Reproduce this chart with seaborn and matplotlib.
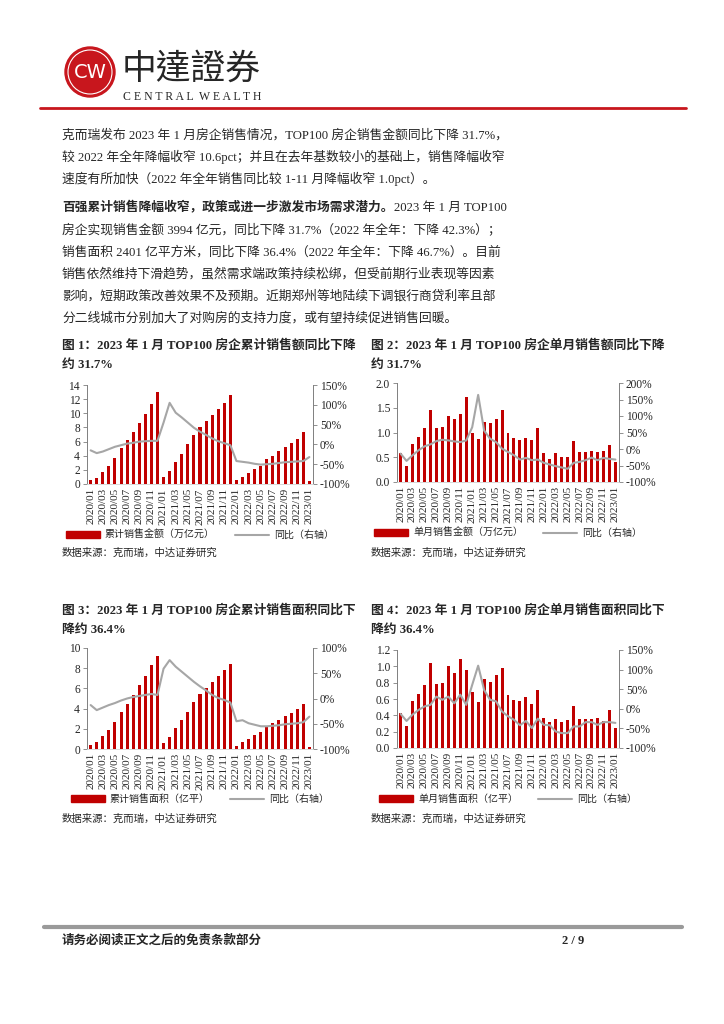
import numpy as np
import pandas as pd
import matplotlib
matplotlib.use('Agg')
import matplotlib.pyplot as plt
import seaborn as sns
from matplotlib.patches import Circle, Patch
from matplotlib.lines import Line2D

# ---- data ----
months = ['2020/01', '2020/02', '2020/03', '2020/04', '2020/05', '2020/06',
          '2020/07', '2020/08', '2020/09', '2020/10', '2020/11', '2020/12',
          '2021/01', '2021/02', '2021/03', '2021/04', '2021/05', '2021/06',
          '2021/07', '2021/08', '2021/09', '2021/10', '2021/11', '2021/12',
          '2022/01', '2022/02', '2022/03', '2022/04', '2022/05', '2022/06',
          '2022/07', '2022/08', '2022/09', '2022/10', '2022/11', '2022/12',
          '2023/01']

cum_amount = [0.6, 0.9, 1.7, 2.6, 3.7, 5.1, 6.2, 7.3, 8.6, 9.9, 11.3, 13.0,
              1.0, 1.9, 3.1, 4.3, 5.6, 7.0, 8.1, 8.9, 9.7, 10.6, 11.5, 12.6,
              0.6, 1.0, 1.6, 2.1, 2.6, 3.5, 4.0, 4.6, 5.2, 5.8, 6.4, 7.3,
              0.4]
cum_amount_yoy = [-15, -22, -18, -12, -6, -2, 2, 4, 7, 8, 9, 9,
                  55, 105, 80, 68, 55, 42, 32, 24, 15, 8, 3, -2,
                  -42, -44, -46, -49, -51, -50, -49, -47, -45, -44, -43, -42,
                  -32]

mon_amount = [0.58, 0.32, 0.76, 0.90, 1.09, 1.45, 1.09, 1.12, 1.33, 1.28, 1.38, 1.72,
              0.99, 0.86, 1.22, 1.20, 1.28, 1.45, 1.00, 0.89, 0.85, 0.88, 0.84, 1.09,
              0.59, 0.46, 0.58, 0.50, 0.51, 0.82, 0.60, 0.60, 0.62, 0.61, 0.62, 0.75,
              0.40]
mon_amount_yoy = [-14, -36, -19, -4, 8, 14, 24, 28, 26, 23, 21, 26,
                  66, 164, 56, 31, 21, 1, -9, -19, -32, -27, -34, -32,
                  -42, -47, -52, -56, -60, -42, -39, -34, -26, -34, -27, -30,
                  -32]

cum_area = [0.4, 0.7, 1.3, 1.9, 2.7, 3.7, 4.5, 5.3, 6.3, 7.2, 8.3, 9.2,
            0.6, 1.2, 2.1, 2.9, 3.7, 4.7, 5.4, 6.0, 6.6, 7.2, 7.8, 8.4,
            0.3, 0.7, 1.0, 1.4, 1.7, 2.3, 2.6, 2.9, 3.3, 3.6, 4.0, 4.5,
            0.2]
cum_area_yoy = [-13, -23, -18, -13, -9, -4, 0, 3, 5, 7, 9, 7,
                59, 76, 63, 53, 43, 33, 24, 16, 7, 1, -3, -8,
                -45, -43, -49, -52, -55, -55, -54, -53, -51, -50, -49, -47,
                -36]

mon_area = [0.43, 0.27, 0.58, 0.66, 0.77, 1.04, 0.78, 0.79, 1.00, 0.92, 1.09, 0.96,
            0.68, 0.56, 0.85, 0.81, 0.89, 0.98, 0.65, 0.59, 0.57, 0.63, 0.54, 0.71,
            0.37, 0.32, 0.36, 0.32, 0.34, 0.52, 0.35, 0.36, 0.36, 0.37, 0.33, 0.46,
            0.24]
mon_area_yoy = [-13, -31, -15, -3, 6, 10, 31, 23, 31, 14, 36, 10,
                61, 110, 48, 23, 19, -7, -19, -28, -42, -31, -49, -25,
                -41, -42, -58, -62, -62, -45, -45, -34, -34, -41, -34, -34,
                -36]

RED = '#C00000'
GRAY = '#A6A6A6'

sns.set_style('white')
plt.rcParams['font.family'] = ['Liberation Serif', 'Noto Sans CJK SC', 'DejaVu Sans']
plt.rcParams['axes.unicode_minus'] = False

W, H = 724, 1024
fig = plt.figure(figsize=(W / 100, H / 100), dpi=100)

# page layer in pixel coordinates
page = fig.add_axes([0, 0, 1, 1])
page.set_xlim(0, W)
page.set_ylim(H, 0)
page.axis('off')

# header
page.add_patch(Circle((90, 72), 25, color='#C8161D'))
page.add_patch(Circle((90, 72), 22, fill=False, ec='white', lw=0.8))
page.text(90, 73, 'CW', color='white', fontsize=14, ha='center', va='center',
          family='DejaVu Sans')
page.text(122, 69, '中達證券', fontsize=25, va='center', ha='left',
          family=['Noto Sans CJK TC'])
page.text(123, 97, 'C E N T R A L  W E A L T H', fontsize=8.5,
          va='center', ha='left', family='Liberation Serif')
page.plot([40, 686], [108, 108], color='#C8161D', lw=2)

# body text
body = 9.2
x0 = 62
p1 = ['克而瑞发布 2023 年 1 月房企销售情况，TOP100 房企销售金额同比下降 31.7%，',
      '较 2022 年全年降幅收窄 10.6pct；并且在去年基数较小的基础上，销售降幅收窄',
      '速度有所加快（2022 年全年销售同比较 1-11 月降幅收窄 1.0pct）。']
for i, s in enumerate(p1):
    page.text(x0, 135 + 22 * i, s, fontsize=body, va='center')

bold_head = '百强累计销售降幅收窄，政策或进一步激发市场需求潜力。'
t = page.text(x0, 208, bold_head, fontsize=body, va='center', fontweight='bold')
fig.canvas.draw()
bb = t.get_window_extent(fig.canvas.get_renderer())
page.text(bb.x1, 208, '2023 年 1 月 TOP100', fontsize=body, va='center')
p2 = ['房企实现销售金额 3994 亿元，同比下降 31.7%（2022 年全年：下降 42.3%）；',
      '销售面积 2401 亿平方米，同比下降 36.4%（2022 年全年：下降 46.7%）。目前',
      '销售依然维持下滑趋势，虽然需求端政策持续松绑，但受前期行业表现等因素',
      '影响，短期政策改善效果不及预期。近期郑州等地陆续下调银行商贷利率且部',
      '分二线城市分别加大了对购房的支持力度，或有望持续促进销售回暖。']
for i, s in enumerate(p2):
    page.text(x0, 230 + 22 * i, s, fontsize=body, va='center')

# figure titles
titles = [('图 1：2023 年 1 月 TOP100 房企累计销售额同比下降', '约 31.7%', 62, 345),
          ('图 2：2023 年 1 月 TOP100 房企单月销售额同比下降', '约 31.7%', 371, 345),
          ('图 3：2023 年 1 月 TOP100 房企累计销售面积同比下', '降约 36.4%', 62, 610),
          ('图 4：2023 年 1 月 TOP100 房企单月销售面积同比下', '降约 36.4%', 371, 610)]
for l1, l2, tx, ty in titles:
    page.text(tx, ty, l1, fontsize=9.2, fontweight='bold', va='center')
    page.text(tx, ty + 20, l2, fontsize=9.2, fontweight='bold', va='center')

# sources
for sx, sy in [(62, 553), (371, 553), (62, 819), (371, 819)]:
    page.text(sx, sy, '数据来源：克而瑞，中达证券研究', fontsize=7.5, va='center')

# footer
page.plot([44, 682], [927, 927], color='#9A9A9A', lw=3)
page.text(62, 941, '请务必阅读正文之后的免责条款部分', fontsize=9, fontweight='bold', va='center')
page.text(562, 941, '2 / 9', fontsize=9, fontweight='bold', va='center')


def draw_chart(rect, bars, yoy, lylim, lticks, lfmt, rylim, bar_label, legend_y):
    ax = fig.add_axes(rect)
    df = pd.DataFrame({'month': months, 'value': bars, 'pos': np.arange(len(months)),
                       'yoy': yoy})
    sns.barplot(data=df, x='month', y='value', color=RED, saturation=1, width=0.5,
                linewidth=0, ax=ax, order=months)
    ax.set_ylim(*lylim)
    ax.set_yticks(lticks)
    ax.set_yticklabels([lfmt.format(v) for v in lticks])
    ax.set_xlim(-0.6, len(months) - 0.4)
    ax.set_xticks(range(0, len(months), 2))
    ax.set_xticklabels(months[::2], rotation=90)
    ax.set_xlabel('')
    ax.set_ylabel('')
    ax.tick_params(axis='x', length=0, pad=3, labelsize=8)
    ax.tick_params(axis='y', left=True, length=3, width=0.6, color='#7F7F7F',
                   pad=2, labelsize=8.3)

    ax2 = ax.twinx()
    sns.lineplot(data=df, x='pos', y='yoy', color=GRAY, lw=1.5, ax=ax2)
    ax2.set_ylim(*rylim)
    rt = np.arange(rylim[0], rylim[1] + 1, 50)
    ax2.set_yticks(rt)
    ax2.set_yticklabels([f'{v}%' for v in rt])
    ax2.set_ylabel('')
    ax2.set_xlabel('')
    ax2.tick_params(axis='y', right=True, length=3, width=0.6, color='#7F7F7F',
                    pad=2, labelsize=8.3)
    ax.set_xlim(-0.6, len(months) - 0.4)

    for a in (ax, ax2):
        a.spines['top'].set_visible(False)
        a.spines['left'].set_color('#7F7F7F')
        a.spines['right'].set_color('#7F7F7F')
        a.spines['left'].set_linewidth(0.6)
        a.spines['right'].set_linewidth(0.6)
        a.spines['bottom'].set_color('#D9D9D9')
        a.spines['bottom'].set_linewidth(0.6)

    handles = [Patch(color=RED, label=bar_label),
               Line2D([0], [0], color=GRAY, lw=1.5, label='同比（右轴）')]
    cx = rect[0] + rect[2] / 2
    fig.legend(handles=handles, loc='center', ncol=2, frameon=False,
               bbox_to_anchor=(cx, 1 - legend_y / H), fontsize=7.2,
               handlelength=3.4, handleheight=0.6, columnspacing=2.0,
               handletextpad=0.5)
    return ax


draw_chart([87 / W, 1 - 484 / H, 226 / W, 99 / H], cum_amount, cum_amount_yoy,
           (0, 14), list(range(0, 15, 2)), '{:d}', (-100, 150),
           '累计销售金额（万亿元）', 535)
draw_chart([397 / W, 1 - 482 / H, 222 / W, 99 / H], mon_amount, mon_amount_yoy,
           (0, 2.0), [0.0, 0.5, 1.0, 1.5, 2.0], '{:.1f}', (-100, 200),
           '单月销售金额（万亿元）', 533)
draw_chart([87 / W, 1 - 749 / H, 226 / W, 101 / H], cum_area, cum_area_yoy,
           (0, 10), list(range(0, 11, 2)), '{:d}', (-100, 100),
           '累计销售面积（亿平）', 799)
draw_chart([397 / W, 1 - 748 / H, 222 / W, 98 / H], mon_area, mon_area_yoy,
           (0, 1.2), [0.0, 0.2, 0.4, 0.6, 0.8, 1.0, 1.2], '{:.1f}', (-100, 150),
           '单月销售面积（亿平）', 799)

fig.savefig('out.png', dpi=100)
